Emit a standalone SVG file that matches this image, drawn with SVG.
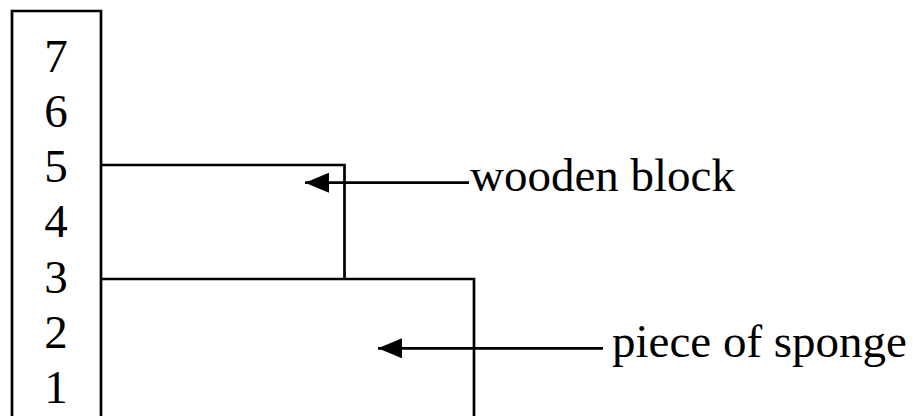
<svg xmlns="http://www.w3.org/2000/svg" width="918" height="416" viewBox="0 0 918 416">
<style>
.ln{fill:none;stroke:#000;stroke-width:2.7}
.t{font-family:"Liberation Serif","Times New Roman",serif;font-size:47px;fill:#000}
.d{font-family:"Liberation Serif","Times New Roman",serif;font-size:47px;fill:#000;text-anchor:middle}
</style>
<defs>
<marker id="ah" markerUnits="userSpaceOnUse" markerWidth="24" markerHeight="20" refX="24" refY="10" orient="auto" viewBox="0 0 24 20">
<path d="M0,0 L24,10 L0,20 z" fill="#000"/>
</marker>
</defs>
<rect width="918" height="416" fill="#fff"/>
<g id="scale">
<path class="ln" d="M12,420 V11 H101 V420"/>
<text class="d" x="56" y="72">7</text>
<text class="d" x="56" y="127">6</text>
<text class="d" x="56" y="182">5</text>
<text class="d" x="56" y="237">4</text>
<text class="d" x="56" y="293">3</text>
<text class="d" x="56" y="348">2</text>
<text class="d" x="56" y="403">1</text>
</g>
<g id="wooden-block">
<path class="ln" d="M101,165 H344.5 V279"/>
</g>
<g id="sponge">
<path class="ln" d="M101,279 H474 V420"/>
</g>
<g id="connectors">
<line class="ln" x1="469" y1="182.7" x2="305" y2="182.7" marker-end="url(#ah)"/>
<line class="ln" x1="603" y1="348.3" x2="378" y2="348.3" marker-end="url(#ah)"/>
</g>
<g id="labels">
<text class="t" x="470" y="191">wooden block</text>
<text class="t" x="612" y="357">piece of sponge</text>
</g>
</svg>
